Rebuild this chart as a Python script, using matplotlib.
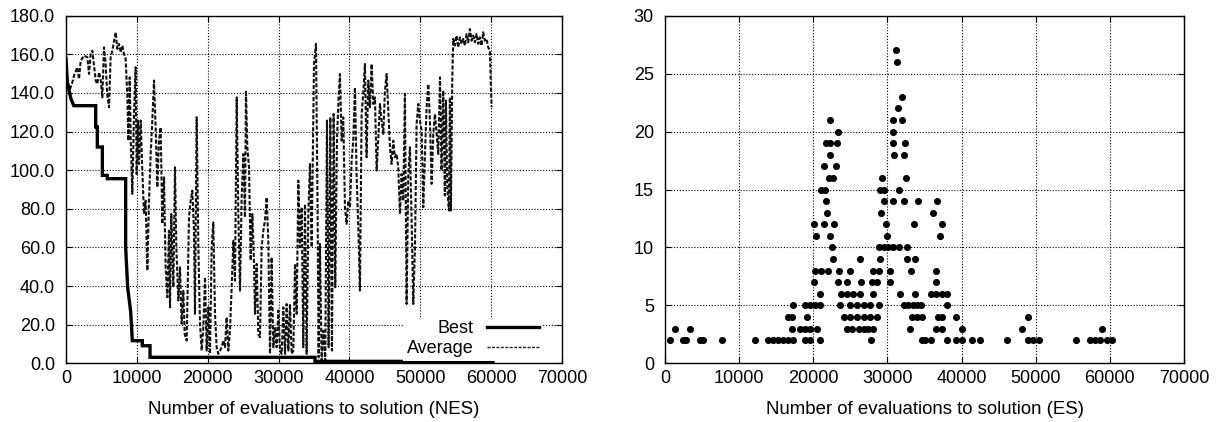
import matplotlib
matplotlib.use("Agg")
import matplotlib.pyplot as plt
from matplotlib.lines import Line2D

plt.rcParams['font.family'] = ['Liberation Sans', 'DejaVu Sans']

# ---------------- Left chart data (NES) ----------------
best_x = [0, 200, 700, 1100, 4190, 4190, 4420, 4420, 5130, 5130, 5830, 5830,
          8420, 8420, 8700, 9130, 9130, 9360, 9360, 10770, 10770, 11860, 11860,
          35140, 35140, 60260]
best_y = [157.6, 145, 137, 133.4, 133.4, 122.4, 122.4, 112, 112, 97.3, 97.3, 95.6,
          95.6, 60, 39.5, 26.6, 26.6, 11.7, 11.7, 11.7, 9.1, 9.1, 3.1,
          3.1, 1.0, 1.0]

avg_x = [0, 190, 565, 894, 1130, 1600, 1835, 2070, 2540, 3010, 3250, 3480, 3720,
         4190, 4420, 4660, 4890, 5130, 5360, 5600, 5830, 6070, 6300, 6540, 7010,
         7250, 7480, 7720, 7950, 8190, 8420, 8660, 8800, 8990, 9130, 9360, 9600,
         9830, 9970, 10160, 10300, 10540, 10770, 11010, 11240, 11480, 11710, 11950,
         12180, 12420, 12650, 12890, 13120, 13360, 13590, 13830, 14060, 14300, 14530,
         14680, 14860, 15150, 15380, 15570, 15850, 16090, 16320, 16560, 16750, 17030,
         17220, 17360, 17590, 17830, 18060, 18200, 18440, 18680, 18910, 19150, 19380,
         19620, 19850, 20090, 20320, 20560, 20790, 21030, 21260, 21500, 21730, 21970,
         22200, 22440, 22670, 22910, 23140, 23380, 23620, 23850, 24090, 24320, 24560,
         24790, 25030, 25260, 25400, 25590, 25830, 26060, 26300, 26530, 26670, 26910,
         27140, 27380, 27610, 27850, 28080, 28320, 28550, 28790, 29020, 29260, 29500,
         29730, 29970, 30200, 30440, 30670, 30910, 31140, 31380, 31610, 31850, 32080,
         32320, 32550, 32790, 33020, 33260, 33490, 33730, 33960, 34200, 34430, 34670,
         35000, 35280, 35510, 35650, 35840, 36075, 36310, 36590, 36830, 37060, 37300,
         37530, 37770, 38000, 38240, 38470, 38660, 38900, 39130, 39370, 39600, 39840,
         40070, 40310, 40540, 40780, 41010, 41250, 41480, 41720, 41950, 42190, 42420,
         42660, 42900, 43130, 43370, 43600, 43840, 44070, 44310, 44540, 44780, 45010,
         45250, 45480, 45720, 45950, 46190, 46420, 46660, 46890, 47130, 47360, 47600,
         47830, 48070, 48300, 48540, 48780, 49010, 49250, 49480, 49720, 49950, 50190,
         50420, 50660, 50890, 51130, 51360, 51600, 51830, 52070, 52300, 52540, 52780,
         53000, 53240, 53470, 53620, 53800, 54040, 54180, 54320, 54510, 54650, 54890,
         55120, 55360, 55590, 55830, 56060, 56300, 56530, 56770, 57000, 57240, 57470,
         57710, 57940, 58180, 58410, 58650, 58880, 59120, 59350, 59590, 59820, 60060]
avg_y = [157.6, 146.4, 142, 145.5, 149, 153.3, 147.2, 156.7, 159.3, 158.5, 149.8, 160.2, 161.9,
         146.4, 144.6, 150.7, 147.2, 137.7, 163.6, 155, 138.6, 132.6, 158.5, 161.9, 171.4,
         162.8, 165.4, 161, 164.5, 160.2, 157.6, 137.7, 115.3, 148.1, 117, 87.7, 129.1,
         153.3, 98, 125.7, 103.2, 125.7, 99.8, 77.3, 84.2, 48, 84.2, 108.4,
         125.7, 146.4, 122.2, 91.1, 115.3, 122.2, 72.2, 96.3, 49.7, 34.2, 68.7,
         29, 77.3, 39.4, 101.5, 60.1, 32.5, 49.7, 20.4, 37.6, 15.2, 11.8,
         49.7, 75.6, 84.2, 89.4, 68.7, 25.6, 127.4, 60.1, 20.4, 6.6, 18.7,
         44.6, 6.6, 29, 4.9, 60.1, 73, 25.6, 8.3, 4.9, 6.6, 8.3,
         11.8, 8.3, 23.8, 6.6, 16.9, 39.4, 63.5, 42.8, 137.7, 77.3, 37.6,
         86, 108.4, 75.6, 141.2, 111.9, 101.5, 53.2, 77.3, 53.2, 25.6, 51.5,
         15.2, 13.5, 60.1, 68.7, 73.9, 86, 63.5, 4.9, 54.9, 8.3, 18.7,
         8.3, 27.3, 6.6, 4.9, 29, 4.9, 30.7, 6.6, 30.7, 4.9, 6.6,
         51.5, 25.6, 94.6, 60.1, 80.8, 8.3, 82.5, 4.9, 77.3, 103.2, 60.1,
         155, 165.4, 77.3, 3.1, 61.8, 1.4, 16.9, 1.4, 125.7, 8.3, 127.4,
         6.6, 129.1, 39.4, 115.3, 137.7, 149.8, 115.3, 127.4, 80.8, 72.2, 84.2,
         80.8, 105, 115.3, 142.9, 98, 70.4, 37.6, 129.1, 139.5, 155, 106.7,
         146.4, 132.6, 155, 134.3, 137.7, 99.8, 117, 134.3, 125.7, 118.8, 141.2,
         149.8, 130.9, 111.9, 103.2, 115.3, 106.7, 108.4, 101.5, 77.3, 98, 84.2,
         139.5, 30.7, 96.3, 111.9, 73.9, 30.7, 60.1, 123.9, 134.3, 125.7, 120.5,
         80.8, 108.4, 132.6, 144.6, 125.7, 92.9, 118.8, 129.1, 118.8, 108.4, 148.1,
         99.8, 141.2, 86.9, 136, 91.1, 79.1, 137.7, 79.1, 146.4, 168, 164.5,
         169.7, 163.6, 168.8, 165.4, 168, 164.5, 170.5, 166.2, 173.1, 167.1, 169.7,
         166.2, 170.5, 165.4, 168.8, 164.5, 171.4, 167.1, 168, 163.6, 161.9, 132.6]

left_xticks = [0, 10000, 20000, 30000, 40000, 50000, 60000, 70000]
left_yticks = [0, 20, 40, 60, 80, 100, 120, 140, 160, 180]
left_ylabels = ["0.0", "20.0", "40.0", "60.0", "80.0", "100.0", "120.0", "140.0", "160.0", "180.0"]

# ---------------- Right chart data (ES) ----------------
es_x = [630, 2430, 2880, 4680, 5130, 7750, 12100, 13900, 14600, 15300, 15900, 16600,
        17300, 18900, 19500, 20900, 27800, 34600, 35100, 35900, 38000, 39300, 40000,
        41400, 42500, 46100, 49000, 49700, 50400, 55500, 57300, 58000, 58700, 59600, 60300,
        1400, 3330, 17100, 18200, 18900, 19500, 20500, 24500, 25200, 26100, 26800, 27400,
        28100, 33000, 36600, 37300, 40100, 48100, 58900,
        16600, 17100, 19100, 24100, 25000, 25900, 26800, 27700, 28600, 33300, 34000, 34600,
        36800, 37400, 39200, 49000,
        17300, 18900, 19500, 20200, 20900, 23600, 25000, 25900, 26800, 27700, 28800,
        32200, 32800, 33400, 34000, 34500, 38100,
        20900, 23800, 24500, 25400, 26300, 28100, 31700, 33700, 35900, 36600, 37300, 38000,
        20100, 23400, 24600, 26500, 27900, 28600, 30300, 36500,
        20200, 21000, 22000, 23500, 25000, 28100, 28800, 30400, 33200, 36600,
        22700, 26300, 29000, 32600, 33700,
        22500, 28800, 29500, 30100, 30800, 31500, 32600,
        20400, 22300, 30000, 37100,
        20100, 21500, 22800, 29800, 33600, 37400,
        21900, 29100, 36200,
        21700, 29500, 30700, 32200, 34100, 36700,
        21100, 21600, 29000, 29500, 31600,
        22100, 22600, 29300, 32500,
        21400, 23100,
        22300, 30900, 32300,
        21700, 22300, 23200, 30700, 32400,
        23300, 30800,
        22300, 30700, 31900,
        31400, 32000, 31350, 31200]
es_y = [2] * 35 + [3] * 19 + [4] * 16 + [5] * 17 + [6] * 12 + [7] * 8 + [8] * 10 + \
       [9] * 5 + [10] * 7 + [11] * 4 + [12] * 6 + [13] * 3 + [14] * 6 + [15] * 5 + \
       [16] * 4 + [17] * 2 + [18] * 3 + [19] * 5 + [20] * 2 + [21] * 3 + [22, 23, 26, 27]

right_xticks = [0, 10000, 20000, 30000, 40000, 50000, 60000, 70000]
right_yticks = [0, 5, 10, 15, 20, 25, 30]

FS = 13
LFS = 13.4


def style_axes(ax):
    ax.grid(True, color='black', linestyle=(0, (1, 1.6)), linewidth=0.8)
    ax.set_axisbelow(True)
    ax.tick_params(direction='in', length=4.5, width=0.8, top=True, right=True,
                   labelsize=FS, pad=5, colors='black')
    ax.tick_params(axis='y', pad=8)
    for s in ax.spines.values():
        s.set_linewidth(1.0)
        s.set_color('black')


fig = plt.figure(figsize=(12.22, 4.22), dpi=100)
ax1 = fig.add_axes([66 / 1222, 1 - 363.3 / 422, (562 - 66) / 1222, (363.3 - 15.7) / 422])
ax2 = fig.add_axes([665 / 1222, 1 - 363.3 / 422, (1184 - 665) / 1222, (363.3 - 15.7) / 422])

ax1.plot(avg_x, avg_y, color='#111111', linestyle=(0, (2.0, 0.9)), linewidth=1.5,
         label='Average', zorder=3)
ax1.plot(best_x, best_y, color='black', linewidth=2.4, label='Best', zorder=4,
         solid_joinstyle='miter')
ax1.set_xlim(0, 70000)
ax1.set_ylim(0, 180)
ax1.set_xticks(left_xticks)
ax1.set_xticklabels([str(v) for v in left_xticks])
ax1.set_yticks(left_yticks)
ax1.set_yticklabels(left_ylabels)
style_axes(ax1)
ax1.set_xlabel("Number of evaluations to solution (NES)", fontsize=LFS, labelpad=10)

handles = [Line2D([], [], color='black', linewidth=2.4),
           Line2D([], [], color='#222222', linestyle=(0, (2.2, 1.0)), linewidth=1.0)]
leg = ax1.legend(handles, ['Best', 'Average'], loc='lower right',
                 bbox_to_anchor=(0.966, 0.0), markerfirst=False, frameon=True,
                 fancybox=False, framealpha=1, edgecolor='none', facecolor='white',
                 fontsize=FS, handlelength=2.85, handletextpad=0.75, labelspacing=0.15,
                 borderpad=0.2, borderaxespad=0.15)
leg.set_zorder(5)

ax2.scatter(es_x, es_y, s=26, marker='o', color='black', linewidths=0, zorder=3)
ax2.set_xlim(0, 70000)
ax2.set_ylim(0, 30)
ax2.set_xticks(right_xticks)
ax2.set_xticklabels([str(v) for v in right_xticks])
ax2.set_yticks(right_yticks)
style_axes(ax2)
ax2.set_xlabel("Number of evaluations to solution (ES)", fontsize=LFS, labelpad=10)

fig.savefig("out.png", dpi=100)
